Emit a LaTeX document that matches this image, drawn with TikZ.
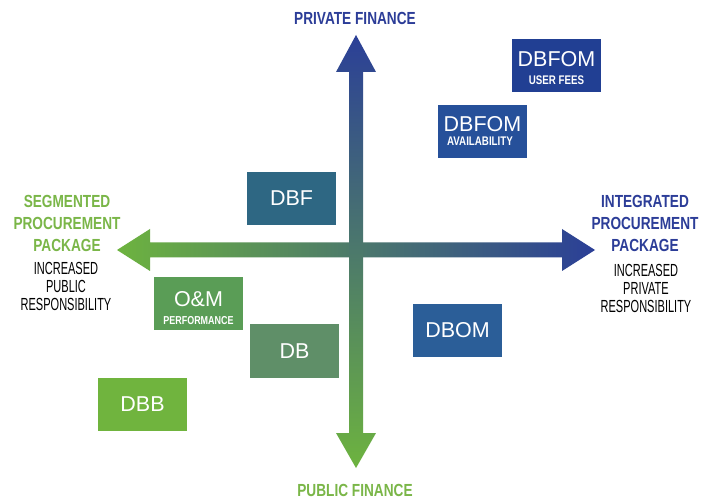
\documentclass[tikz,border=0pt]{standalone}
\usepackage{fontspec}
\setmainfont{Liberation Sans}
\newfontfamily\condb{Liberation Sans}[FakeStretch=0.78]
\newfontfamily\condr{Liberation Sans}[FakeStretch=0.63]
\definecolor{ablue}{HTML}{2B3F97}
\definecolor{agreen}{HTML}{6DB33F}
\definecolor{tblue}{HTML}{2C3D98}
\definecolor{tgreen}{HTML}{7AB648}
\definecolor{cUF}{HTML}{213F93}
\definecolor{cAV}{HTML}{26509A}
\definecolor{cDBF}{HTML}{2E6783}
\definecolor{cDBOM}{HTML}{2B5E98}
\definecolor{cOM}{HTML}{5A9D56}
\definecolor{cDB}{HTML}{5F8F68}
\definecolor{cDBB}{HTML}{70B43E}
\tikzset{
  qbox/.style={rectangle, minimum width=89pt, minimum height=53pt, inner sep=0pt, text=white, font=\fontsize{21.5}{21.5}\selectfont},
  boxlab/.style={anchor=base, inner sep=0pt, text=white, font=\fontsize{21.5}{21.5}\selectfont},
  sublab/.style={anchor=base, inner sep=0pt, text=white, font=\condb\bfseries\fontsize{12.5}{13}\selectfont},
  head/.style={anchor=base, inner sep=0pt, font=\condb\bfseries\fontsize{17.5}{20}\selectfont},
  resp/.style={anchor=base, inner sep=0pt, text=black, font=\condr\fontsize{17.5}{18}\selectfont},
}
\begin{document}
\begin{tikzpicture}[x=1pt,y=-1pt]
\path[fill=white] (0,0) rectangle (709,502);
% horizontal arrow
\shade[left color=agreen, right color=ablue]
  (117,250) -- (150,229) -- (150,242.5) -- (562,242.5) -- (562,229) -- (595,250)
  -- (562,271) -- (562,257.5) -- (150,257.5) -- (150,271) -- cycle;
% vertical arrow
\shade[top color=ablue, bottom color=agreen]
  (356,35) -- (376,72) -- (363,72) -- (363,433) -- (376,433) -- (356,468)
  -- (336,433) -- (349,433) -- (349,72) -- (336,72) -- cycle;
% axis titles
\node[head, text=tblue] (pf) at (355,25) {PRIVATE FINANCE};
\node[head, text=tgreen] (pubf) at (355,496) {PUBLIC FINANCE};
\node[head, text=tgreen] (s1) at (67,208) {SEGMENTED};
\node[head, text=tgreen] (s2) at (67,230) {PROCUREMENT};
\node[head, text=tgreen] (s3) at (67,252) {PACKAGE};
\node[resp] (l1) at (66,275) {INCREASED};
\node[resp] (l2) at (66,293) {PUBLIC};
\node[resp] (l3) at (66,311) {RESPONSIBILITY};
\node[head, text=tblue] (i1) at (645,208) {INTEGRATED};
\node[head, text=tblue] (i2) at (645,230) {PROCUREMENT};
\node[head, text=tblue] (i3) at (645,252) {PACKAGE};
\node[resp] (r1) at (646,277) {INCREASED};
\node[resp] (r2) at (646,295) {PRIVATE};
\node[resp] (r3) at (646,313) {RESPONSIBILITY};
% boxes
\node[qbox, fill=cUF] (uf) at (556.5,65.5) {};
\node[boxlab] (ufa) at (556.5,67) {DBFOM};
\node[sublab] (ufb) at (556.5,85) {USER FEES};
\node[qbox, fill=cAV] (av) at (482.5,132) {};
\node[boxlab] (ava) at (482.5,132) {DBFOM};
\node[sublab] (avb) at (480,146) {AVAILABILITY};
\node[qbox, fill=cDBF] (dbf) at (291.5,198.5) {DBF};
\node[qbox, fill=cOM] (om) at (198.5,303.5) {};
\node[boxlab] (oma) at (198.5,307) {O\&M};
\node[sublab, font=\condb\bfseries\fontsize{11.5}{12}\selectfont] (omb) at (198.5,325) {PERFORMANCE};
\node[qbox, fill=cDB] (db) at (294.5,351) {DB};
\node[qbox, fill=cDBOM] (dbom) at (457.5,330.5) {DBOM};
\node[qbox, fill=cDBB] (dbb) at (142.5,404) {DBB};
\end{tikzpicture}
\end{document}
